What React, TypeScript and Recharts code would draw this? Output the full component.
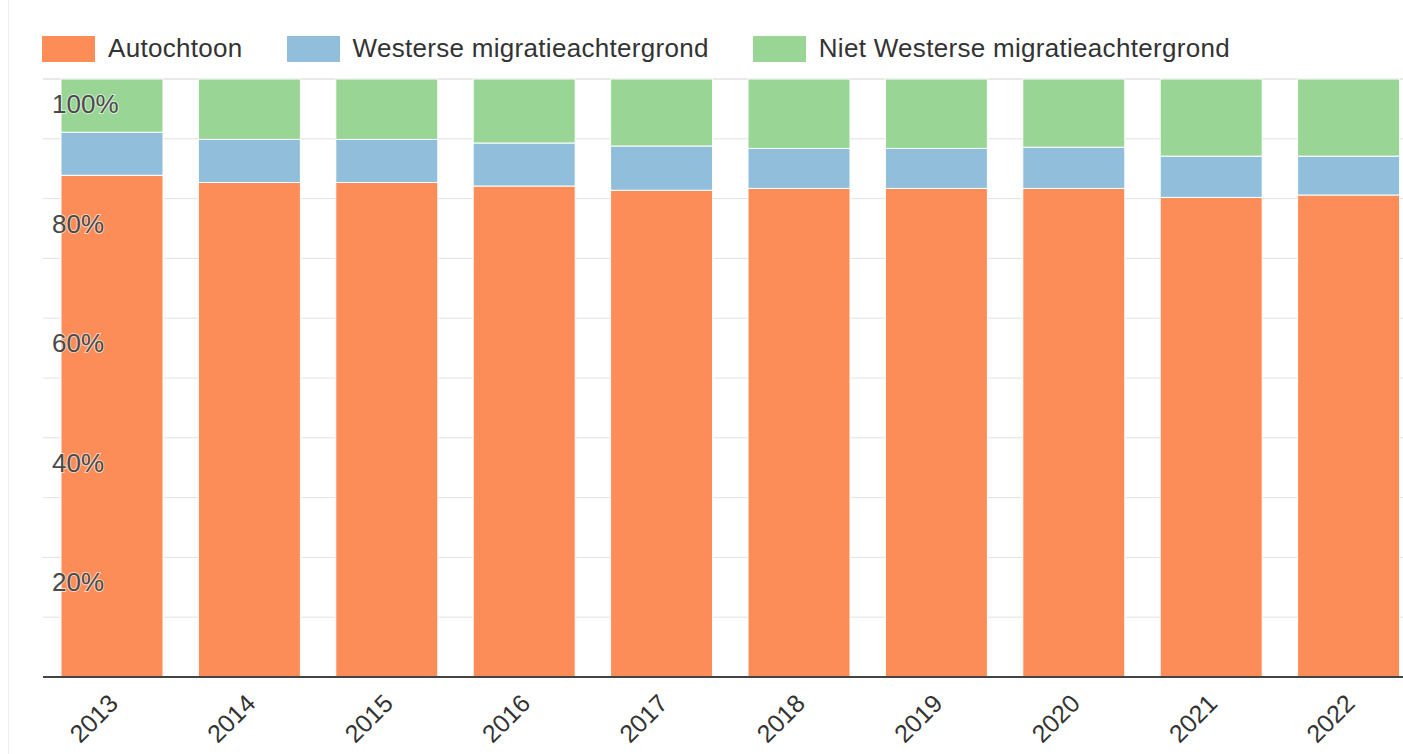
import React from 'react';
import { BarChart, Bar, XAxis, YAxis, CartesianGrid, Legend } from 'recharts';

const YEARS = ['2013', '2014', '2015', '2016', '2017', '2018', '2019', '2020', '2021', '2022'];
const AUTOCHTOON = [83.9, 82.7, 82.7, 82.1, 81.4, 81.7, 81.7, 81.7, 80.2, 80.6];
const WESTERS = [7.2, 7.2, 7.2, 7.2, 7.4, 6.7, 6.7, 6.9, 6.9, 6.5];
const NIET_WESTERS = [8.9, 10.1, 10.1, 10.7, 11.2, 11.6, 11.6, 11.4, 12.9, 12.9];
const Y_TICKS = [0, 10, 20, 30, 40, 50, 60, 70, 80, 90, 100];

const SERIES = [
  { key: 'autochtoon', name: 'Autochtoon', color: '#fc8d59' },
  { key: 'westers', name: 'Westerse migratieachtergrond', color: '#91bfdb' },
  { key: 'nietWesters', name: 'Niet Westerse migratieachtergrond', color: '#99d594' },
];

const FONT = '"Liberation Sans", Arial, sans-serif';

const data = YEARS.map((year, i) => ({
  year,
  autochtoon: AUTOCHTOON[i],
  westers: WESTERS[i],
  nietWesters: NIET_WESTERS[i],
}));

// y labels sit inside the plot, just under their gridline
const YTick = ({ y, payload }: any) => {
  const v = payload.value;
  if (v === 0 || v % 20 !== 0) return <g />;
  return (
    <text x={52} y={y + 34} fontSize={26} fontFamily={FONT} fill="#4a4a4a"
      stroke="#fff" strokeWidth={2} strokeOpacity={0.6} paintOrder="stroke">
      {v}%
    </text>
  );
};

const XTick = ({ x, y, payload }: any) => (
  <text x={x + 8} y={y + 20} transform={`rotate(-45 ${x + 8} ${y + 20})`} textAnchor="end"
    fontSize={25} fontFamily={FONT} fill="#333">
    {payload.value}
  </text>
);

const LegendContent = () => (
  <div style={{ display: 'flex', alignItems: 'center', fontFamily: FONT, fontSize: 26, color: '#333', letterSpacing: 0.3 }}>
    {SERIES.map((s) => (
      <div key={s.key} style={{ display: 'flex', alignItems: 'center', marginRight: 44 }}>
        <div style={{ width: 53, height: 26, background: s.color, marginRight: 13 }} />
        <span>{s.name}</span>
      </div>
    ))}
  </div>
);

export default function App() {
  return (
    <div style={{ position: 'absolute', left: 0, top: 0, width: 1403, height: 754, overflow: 'hidden', background: '#fff' }}>
      <div style={{ position: 'absolute', left: 8, top: 0, bottom: 0, width: 1, background: '#eee' }} />
      <BarChart width={1417} height={754} data={data} margin={{ top: 79, right: 0, left: 0, bottom: 0 }} barSize={102}>
        <CartesianGrid vertical={false} stroke="#e2e2e2" />
        <XAxis dataKey="year" interval={0} height={77} tickLine={false}
          axisLine={{ stroke: '#444', strokeWidth: 2 }} tick={<XTick />} />
        <YAxis domain={[0, 100]} ticks={Y_TICKS} width={43} axisLine={false} tickLine={false} tick={<YTick />} />
        <Legend verticalAlign="middle" content={<LegendContent />}
          wrapperStyle={{ top: 33, left: 42, width: 'auto', height: 'auto' }} />
        {SERIES.map((s) => (
          <Bar key={s.key} dataKey={s.key} name={s.name} stackId="a" fill={s.color}
            stroke="#fff" strokeWidth={1} isAnimationActive={false} />
        ))}
      </BarChart>
    </div>
  );
}
